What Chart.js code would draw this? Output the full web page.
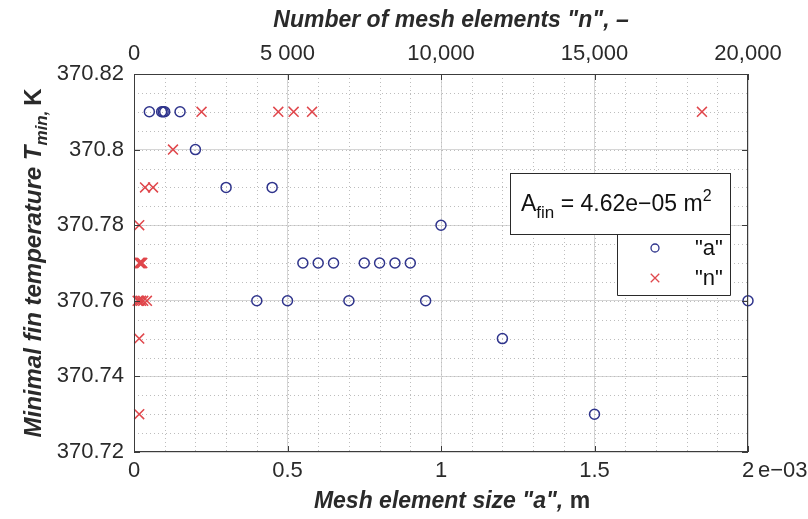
<!DOCTYPE html>
<html><head><meta charset="utf-8">
<script src="https://cdn.jsdelivr.net/npm/chart.js@4/dist/chart.umd.min.js"></script>
<style>html,body{margin:0;padding:0;background:#fff;}#wrap{width:808px;height:519px;}</style>
</head><body><div id="wrap"><canvas id="c" width="808" height="519"></canvas></div>
<script>
// ---- data ----
const sizeA = [0.00005, 0.00009, 0.000095, 0.0001, 0.00015, 0.0002, 0.0003, 0.00045, 0.001,
  0.00055, 0.0006, 0.00065, 0.00075, 0.0008, 0.00085, 0.0009,
  0.0004, 0.0005, 0.0007, 0.00095, 0.002, 0.0012, 0.0015];
const tempA = [370.81, 370.81, 370.81, 370.81, 370.81, 370.80, 370.79, 370.79, 370.78,
  370.77, 370.77, 370.77, 370.77, 370.77, 370.77, 370.77,
  370.76, 370.76, 370.76, 370.76, 370.76, 370.75, 370.73];
const countN = [2200, 4700, 5200, 5800, 18500, 1270, 360, 620, 170,
  170, 185, 200, 215, 230, 250, 270,
  120, 170, 230, 300, 420, 170, 170];
const tempN = [370.81, 370.81, 370.81, 370.81, 370.81, 370.80, 370.79, 370.79, 370.78,
  370.77, 370.77, 370.77, 370.77, 370.77, 370.77, 370.77,
  370.76, 370.76, 370.76, 370.76, 370.76, 370.75, 370.73];
const seriesNames = ['"a"', '"n"'];
const yTicks = [370.72, 370.74, 370.76, 370.78, 370.80, 370.82];
const yTickLabels = ['370.72', '370.74', '370.76', '370.78', '370.8', '370.82'];
const xBottomTicks = [0, 0.0005, 0.001, 0.0015, 0.002];
const xBottomLabels = ['0', '0.5', '1', '1.5', '2'];
const xBottomExponent = 'e\u221203';
const xTopTicks = [0, 5000, 10000, 15000, 20000];
const xTopLabels = ['0', '5 000', '10,000', '15,000', '20,000'];
const yMinorStep = 0.005;
const xMinorStep = 0.0001;
const annotationText = {base: 'A', sub: 'fin', main: ' = 4.62e\u221205 m', sup: '2'};
const titleX = 'Mesh element size "a",';
const titleXUnit = ' m';
const titleTop = 'Number of mesh elements "n", \u2013';
const titleY = 'Minimal fin temperature ';

// ---- styles ----
const FONT = '"Liberation Sans", Arial, sans-serif';
const blue = '#2f348c';
const red = '#e0474c';
const textCol = '#2a2a2a';

function runs(ctx, list, x, y, align) {
  let total = 0;
  list.forEach(r => { ctx.font = r.f; r.w = ctx.measureText(r.t).width; total += r.w; });
  let cx = align === 'center' ? x - total / 2 : (align === 'right' ? x - total : x);
  list.forEach(r => { ctx.font = r.f; ctx.fillText(r.t, cx, y + (r.dy || 0)); cx += r.w; });
  return total;
}

const decor = {
  id: 'decor',
  beforeDatasetsDraw(chart) {
    const {ctx, chartArea: a, scales} = chart;
    const x = scales.x, y = scales.y;
    ctx.save();
    ctx.strokeStyle = '#bdbdbd';
    ctx.lineWidth = 1;
    ctx.setLineDash([1, 3]);
    for (let v = x.min + xMinorStep; v < x.max - 1e-12; v += xMinorStep) {
      const px = Math.round(x.getPixelForValue(v)) + 0.5;
      ctx.beginPath(); ctx.moveTo(px, a.top); ctx.lineTo(px, a.bottom); ctx.stroke();
    }
    for (let v = y.min + yMinorStep; v < y.max - 1e-9; v += yMinorStep) {
      const py = Math.round(y.getPixelForValue(v)) + 0.5;
      ctx.beginPath(); ctx.moveTo(a.left, py); ctx.lineTo(a.right, py); ctx.stroke();
    }
    ctx.restore();
  },
  afterDatasetsDraw(chart) {
    const {ctx, chartArea: a, scales} = chart;
    const x = scales.x, y = scales.y, x2 = scales.x2;
    ctx.save();
    // frame
    ctx.strokeStyle = '#3c3c3c';
    ctx.lineWidth = 1;
    ctx.setLineDash([]);
    ctx.strokeRect(Math.round(a.left) + 0.5, Math.round(a.top) + 0.5,
      Math.round(a.right - a.left) - 1, Math.round(a.bottom - a.top) - 1);
    // inward ticks
    const tl = 6;
    ctx.beginPath();
    xBottomTicks.forEach(v => {
      const px = Math.round(x.getPixelForValue(v)) + 0.5;
      ctx.moveTo(px, a.bottom); ctx.lineTo(px, a.bottom - tl);
    });
    xTopTicks.forEach(v => {
      const px = Math.round(x2.getPixelForValue(v)) + 0.5;
      ctx.moveTo(px, a.top); ctx.lineTo(px, a.top + tl);
    });
    yTicks.forEach(v => {
      const py = Math.round(y.getPixelForValue(v)) + 0.5;
      ctx.moveTo(a.left, py); ctx.lineTo(a.left + tl, py);
      ctx.moveTo(a.right, py); ctx.lineTo(a.right - tl, py);
    });
    ctx.stroke();

    // exponent label
    ctx.fillStyle = textCol;
    ctx.textBaseline = 'alphabetic';
    ctx.font = '22px ' + FONT;
    ctx.textAlign = 'left';
    ctx.fillText(xBottomExponent, x.getPixelForValue(0.002) + 10, 477);

    // titles
    const bi = s => 'italic bold ' + s + 'px ' + FONT;
    const b = s => 'bold ' + s + 'px ' + FONT;
    runs(ctx, [{t: titleX, f: bi(23)}, {t: titleXUnit, f: b(23)}], 452, 508, 'center');
    runs(ctx, [{t: titleTop, f: bi(23)}], 451, 27, 'center');
    ctx.save();
    ctx.translate(41, (a.top + a.bottom) / 2);
    ctx.rotate(-Math.PI / 2);
    runs(ctx, [{t: titleY, f: bi(24)}, {t: 'T', f: bi(24)}, {t: 'min', f: bi(17), dy: 6},
      {t: ', ', f: bi(17), dy: 6}, {t: 'K', f: b(24)}], 0, 0, 'center');
    ctx.restore();

    // annotation box
    const bx = 510, by = 173, bw = 220, bh = 61;
    ctx.fillStyle = '#fff';
    ctx.fillRect(bx, by, bw, bh);
    ctx.strokeStyle = '#2a2a2a';
    ctx.strokeRect(bx + 0.5, by + 0.5, bw, bh);
    ctx.fillStyle = '#111';
    runs(ctx, [{t: annotationText.base, f: '23px ' + FONT}, {t: annotationText.sub, f: '17px ' + FONT, dy: 7},
      {t: annotationText.main, f: '23px ' + FONT}, {t: annotationText.sup, f: '16px ' + FONT, dy: -10}], bx + 11, by + 38, 'left');

    // legend box
    const lx = 617, ly = 234, lw = 113, lh = 61;
    ctx.fillStyle = '#fff';
    ctx.fillRect(lx, ly + 1, lw, lh);
    ctx.strokeStyle = '#2a2a2a';
    ctx.beginPath();
    ctx.moveTo(lx + 0.5, ly); ctx.lineTo(lx + 0.5, ly + lh + 0.5); ctx.lineTo(lx + lw + 0.5, ly + lh + 0.5); ctx.lineTo(lx + lw + 0.5, ly);
    ctx.stroke();
    const ds = chart.data.datasets;
    [0, 1].forEach(i => {
      const cy = ly + 14 + i * 30;
      ctx.strokeStyle = ds[i].borderColor;
      ctx.lineWidth = 1.3;
      Chart.helpers.drawPoint(ctx, {pointStyle: ds[i].pointStyle, radius: i === 0 ? 4 : 6, borderWidth: 1.3, rotation: 0}, lx + 38, cy);
      ctx.fillStyle = '#111';
      ctx.font = '22px ' + FONT;
      ctx.textAlign = 'left';
      ctx.textBaseline = 'middle';
      ctx.fillText(seriesNames[i], lx + 78, cy + 1);
    });
    ctx.restore();
  }
};

new Chart(document.getElementById('c'), {
  type: 'scatter',
  data: {
    datasets: [
      {label: seriesNames[0], data: sizeA.map((v, i) => ({x: v, y: tempA[i]})), xAxisID: 'x', yAxisID: 'y',
        pointStyle: 'circle', pointRadius: 5, pointBorderWidth: 1.5, borderColor: blue, backgroundColor: 'rgba(0,0,0,0)', clip: false},
      {label: seriesNames[1], data: countN.map((v, i) => ({x: v, y: tempN[i]})), xAxisID: 'x2', yAxisID: 'y',
        pointStyle: 'crossRot', pointRadius: 7, pointBorderWidth: 1.5, borderColor: red, backgroundColor: red, clip: false}
    ]
  },
  options: {
    responsive: false,
    animation: false,
    events: [],
    layout: {padding: {left: 0, right: 60, top: 0, bottom: 0}},
    plugins: {legend: {display: false}, tooltip: {enabled: false}},
    scales: {
      x: {
        type: 'linear', position: 'bottom', min: 0, max: 0.002,
        afterBuildTicks: s => { s.ticks = xBottomTicks.map(v => ({value: v})); },
        afterFit: s => { s.height = 67; },
        ticks: {callback: (v, i) => xBottomLabels[i], font: {family: FONT, size: 22}, color: textCol, padding: 6, maxRotation: 0, autoSkip: false},
        grid: {color: '#d6d6d6', lineWidth: 1, drawTicks: false},
        border: {display: false}
      },
      x2: {
        type: 'linear', position: 'top', min: 0, max: 20000,
        afterBuildTicks: s => { s.ticks = xTopTicks.map(v => ({value: v})); },
        afterFit: s => { s.height = 74; },
        ticks: {callback: (v, i) => xTopLabels[i], font: {family: FONT, size: 22}, color: textCol, padding: 7, maxRotation: 0, autoSkip: false},
        grid: {drawOnChartArea: false, drawTicks: false},
        border: {display: false}
      },
      y: {
        type: 'linear', position: 'left', min: 370.72, max: 370.82,
        afterBuildTicks: s => { s.ticks = yTicks.map(v => ({value: v})); },
        afterFit: s => { s.width = 134; },
        ticks: {callback: (v, i) => yTickLabels[i], font: {family: FONT, size: 22}, color: textCol, padding: 10, autoSkip: false},
        grid: {color: '#d6d6d6', lineWidth: 1, drawTicks: false},
        border: {display: false}
      }
    }
  },
  plugins: [decor]
});
</script></body></html>
